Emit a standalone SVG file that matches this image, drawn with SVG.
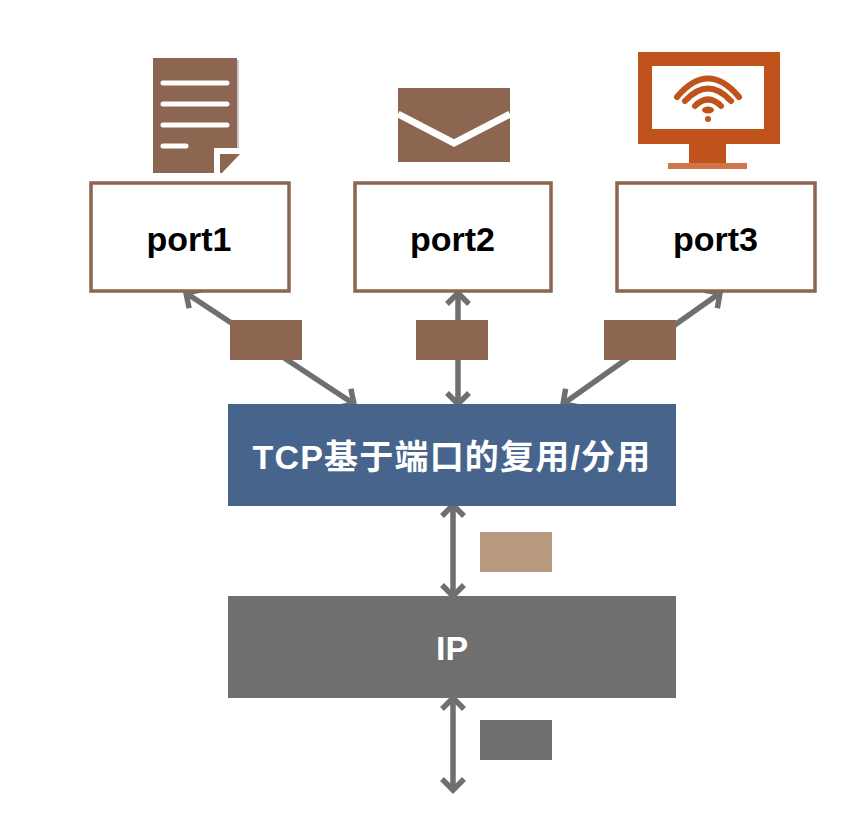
<svg xmlns="http://www.w3.org/2000/svg" width="854" height="822" viewBox="0 0 854 822">
<style>
.brown{fill:#8c6650}
.port{fill:#fff;stroke:#8c6650;stroke-width:3.500}
.t{font-family:"Liberation Sans","Noto Sans CJK SC",sans-serif;font-weight:bold;font-size:34px;text-anchor:middle}
.w{fill:none;stroke:#fff;stroke-linecap:round}
.wifi{fill:none;stroke:#c0531c;stroke-width:6;stroke-linecap:round}
.c{fill:none;stroke:#6f6f6f;stroke-width:5.500;marker-start:url(#a);marker-end:url(#a)}
</style>
<defs>
<marker id="a" markerUnits="userSpaceOnUse" markerWidth="28" markerHeight="28" refX="24" refY="14" orient="auto-start-reverse" viewBox="0 0 28 28">
<path d="M13 3 L24 14 L13 25" fill="none" stroke="#6f6f6f" stroke-width="5.500"/>
</marker>
</defs>
<rect width="854" height="822" fill="#fff"/>
<g id="connectors">
<line class="c" x1="186" y1="293" x2="354" y2="404"/>
<line class="c" x1="458" y1="293" x2="458" y2="404"/>
<line class="c" x1="720" y1="293" x2="563" y2="404"/>
<line class="c" x1="453" y1="505" x2="453" y2="596"/>
<line class="c" x1="453" y1="698" x2="453" y2="790"/>
</g>
<g id="icon-document">
<rect x="156" y="60" width="83" height="113" fill="#c9c9c9"/>
<rect class="brown" x="153" y="58" width="84" height="115"/>
<path d="M163 83H227M163 104H227M163 125H227M163 146H186" class="w" stroke-width="5"/>
<path d="M214 175V148H242V175Z" fill="#fff"/>
<path class="brown" d="M220 154H240L222 173H220Z"/>
</g>
<g id="icon-mail">
<rect class="brown" x="398" y="88" width="112" height="74"/>
<path d="M398 114L454 143L510 114" fill="none" stroke="#fff" stroke-width="7"/>
</g>
<g id="icon-monitor">
<path fill="#c0531c" fill-rule="evenodd" d="M638 52H780V144H638ZM652 66V129H764V66Z"/>
<rect x="689" y="144" width="37" height="20" fill="#c0531c"/>
<rect x="668" y="163" width="79" height="6" fill="#d0744a"/>
<path class="wifi" d="M677 97Q708 60 739 97"/>
<path class="wifi" d="M685 101Q708 76 731 101"/>
<path class="wifi" d="M695 106Q708 93 721 106"/>
<ellipse cx="708" cy="110" rx="6" ry="3.500" fill="#c0531c"/>
<circle cx="708" cy="119" r="3" fill="#c0531c"/>
</g>
<g id="port1"><rect class="port" x="91" y="183" width="198" height="108"/><text class="t" x="189" y="251">port1</text></g>
<g id="port2"><rect class="port" x="355" y="183" width="196" height="108"/><text class="t" x="452.500" y="251">port2</text></g>
<g id="port3"><rect class="port" x="617" y="183" width="198" height="108"/><text class="t" x="715.500" y="251">port3</text></g>
<g id="seg1"><rect class="brown" x="230" y="320" width="72" height="40"/></g>
<g id="seg2"><rect class="brown" x="416" y="320" width="72" height="40"/></g>
<g id="seg3"><rect class="brown" x="604" y="320" width="72" height="40"/></g>
<g id="tcp"><rect x="228" y="404" width="448" height="102" fill="#47658c"/><text class="t" x="452" y="469" fill="#fff" letter-spacing="1.200">TCP基于端口的复用/分用</text></g>
<g id="datagram"><rect x="480" y="532" width="72" height="40" fill="#b89a7e"/></g>
<g id="ip"><rect x="228" y="596" width="448" height="102" fill="#6f6f6f"/><text class="t" x="452" y="660" fill="#fff">IP</text></g>
<g id="frame"><rect x="480" y="720" width="72" height="40" fill="#6f6f6f"/></g>
</svg>
